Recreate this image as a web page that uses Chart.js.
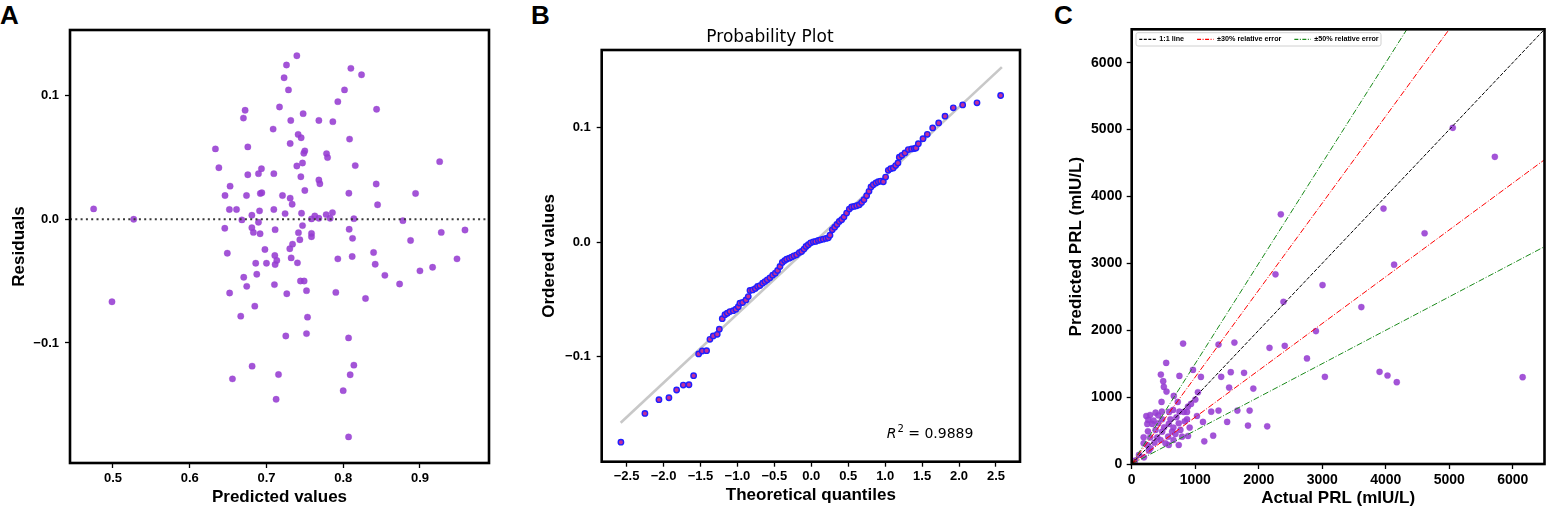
<!DOCTYPE html>
<html><head><meta charset="utf-8">
<script src="https://cdn.jsdelivr.net/npm/chart.js@4.4.0/dist/chart.umd.min.js"></script>
<style>
body{margin:0;background:#fff;width:1549px;height:509px;position:relative;overflow:hidden;font-family:"Liberation Sans",Arial,sans-serif}
canvas{position:absolute;top:0}
.lab{position:absolute;font:bold 26px "Liberation Sans",Arial,sans-serif;line-height:26px;color:#000}
</style></head><body>
<div class="lab" style="left:0px;top:2px">A</div>
<div class="lab" style="left:531px;top:2px">B</div>
<div class="lab" style="left:1054px;top:2px">C</div>
<canvas id="cA" width="500" height="509" style="left:0px;width:500px;height:509px"></canvas>
<canvas id="cB" width="520" height="509" style="left:520px;width:520px;height:509px"></canvas>
<canvas id="cC" width="504" height="509" style="left:1045px;width:504px;height:509px"></canvas>
<script>
// ---------- Panel A: residuals ----------
const residPred = [0.4748,0.527,0.4987,0.6335,0.638,0.6526,0.646,0.6517,0.661,0.6457,0.649,0.652,0.6557,0.6665,0.6704,0.6743,0.6848,0.6813,0.67,0.6722,0.6757,0.6757,0.674,0.668,0.681,0.681,0.683,0.686,0.6874,0.6896,0.6935,0.692,0.694,0.691,0.6896,0.6917,0.698,0.700,0.7087,0.7096,0.7096,0.7113,0.7109,0.7113,0.7135,0.7104,0.7157,0.7126,0.717,0.7209,0.7243,0.723,0.7261,0.7287,0.7317,0.7309,0.7309,0.7335,0.734,0.7304,0.7322,0.7265,0.7252,0.7396,0.7396,0.7413,0.7452,0.7478,0.75,0.7487,0.747,0.7448,0.75,0.7457,0.747,0.7417,0.7435,0.7404,0.7443,0.7491,0.7522,0.7535,0.7522,0.7587,0.763,0.7587,0.7587,0.7683,0.7683,0.7696,0.7683,0.7783,0.7796,0.7778,0.783,0.786,0.7865,0.793,0.793,0.7904,0.8017,0.81,0.8083,0.8074,0.8078,0.8122,0.8117,0.8139,0.807,0.8139,0.8091,0.8,0.807,0.8157,0.8239,0.8291,0.8396,0.8417,0.843,0.8435,0.8448,0.8543,0.8735,0.8778,0.8878,0.8943,0.9,0.9165,0.9257,0.9278,0.9483,0.9587];
const residVal = [0.0084,0.0,-0.0667,0.0569,0.0417,0.0268,0.0192,0.0079,0.0079,-0.0073,-0.0274,-0.0596,-0.129,-0.0783,-0.0469,-0.0542,-0.0702,-0.1187,0.0818,0.0881,0.0585,0.036,0.0192,-0.0005,0.0033,-0.0068,-0.0106,-0.0355,-0.0444,0.0369,0.0409,0.0209,0.0214,0.0068,-0.0024,-0.0117,-0.0244,-0.0355,0.0729,0.0369,0.0079,-0.0084,-0.0293,-0.0366,-0.0333,-0.0528,-0.1255,-0.1455,0.0908,0.0192,0.0046,0.1144,0.1247,0.1046,0.0799,0.0612,0.0171,0.0122,-0.0201,-0.0238,-0.0312,-0.0602,-0.0943,0.1322,0.0431,0.0686,0.0659,0.0854,0.0553,0.0534,0.0455,0.0344,0.0233,0.0049,-0.0051,-0.0108,-0.0165,-0.0352,-0.0499,-0.0499,-0.0577,-0.0791,-0.0924,0.0003,0.0027,-0.0114,-0.0141,0.0799,0.0317,0.0287,0.0008,0.0531,0.0499,0.0038,0.0008,0.0054,0.0789,0.0951,-0.032,-0.0591,0.1046,0.122,0.0648,0.0211,-0.0081,-0.0154,-0.0301,0.0005,-0.0959,-0.1179,-0.1257,-0.1385,-0.1759,0.0434,0.1168,-0.064,-0.0268,-0.0363,0.0285,0.0889,0.0117,-0.0453,-0.0523,-0.0011,-0.0171,0.0209,-0.0417,-0.0388,0.0466,-0.0106,-0.032,-0.0087];
const aXRange = [0.444, 0.99];
const aYRange = [-0.197, 0.153];
const aXTicks = [0.5,0.6,0.7,0.8,0.9];
const aXTickLabels = ['0.5','0.6','0.7','0.8','0.9'];
const aYTicks = [-0.1,0,0.1];
const aYTickLabels = ['\u22120.1','0.0','0.1'];

// ---------- Panel B: probability plot ----------
const qqTheo = [-2.577,-2.252,-2.062,-1.927,-1.823,-1.733,-1.656,-1.593,-1.525,-1.476,-1.417,-1.372,-1.327,-1.273,-1.245,-1.205,-1.169,-1.137,-1.101,-1.056,-1.02,-0.988,-0.966,-0.93,-0.884,-0.853,-0.83,-0.794,-0.758,-0.727,-0.695,-0.659,-0.627,-0.596,-0.56,-0.523,-0.487,-0.456,-0.424,-0.393,-0.361,-0.334,-0.298,-0.266,-0.235,-0.199,-0.162,-0.131,-0.099,-0.072,-0.041,-0.009,0.027,0.059,0.095,0.126,0.162,0.199,0.23,0.253,0.284,0.316,0.347,0.379,0.411,0.442,0.478,0.514,0.546,0.578,0.614,0.65,0.681,0.713,0.749,0.781,0.808,0.839,0.875,0.907,0.939,0.975,1.006,1.042,1.074,1.11,1.142,1.173,1.191,1.227,1.268,1.313,1.358,1.394,1.417,1.449,1.512,1.57,1.643,1.724,1.81,1.922,2.049,2.243,2.563];
const qqOrdered = [-0.1749,-0.1498,-0.1378,-0.1361,-0.1293,-0.125,-0.1247,-0.1168,-0.0978,-0.0952,-0.0949,-0.085,-0.082,-0.0806,-0.0762,-0.0669,-0.0634,-0.0622,-0.0607,-0.0599,-0.0587,-0.0564,-0.0534,-0.0528,-0.0505,-0.0476,-0.0423,-0.0418,-0.0406,-0.0388,-0.038,-0.0359,-0.0345,-0.033,-0.0312,-0.0289,-0.0272,-0.0248,-0.0213,-0.0178,-0.0161,-0.0149,-0.014,-0.0131,-0.012,-0.0111,-0.0091,-0.0082,-0.0061,-0.0038,-0.0023,-0.0006,0.0003,0.0006,0.0015,0.002,0.0026,0.0032,0.0038,0.0061,0.0108,0.0131,0.0155,0.0181,0.0196,0.0219,0.0254,0.0289,0.0307,0.0312,0.0318,0.0327,0.0347,0.0371,0.0406,0.0444,0.0482,0.0502,0.0517,0.0528,0.0534,0.0528,0.0569,0.0628,0.0642,0.0648,0.0669,0.0692,0.0742,0.0759,0.078,0.0809,0.0815,0.0818,0.0823,0.0861,0.0905,0.0943,0.0999,0.1042,0.1101,0.1174,0.12,0.1218,0.1282];
const qqLineX = [-2.58, 2.58];
const qqLineY = [-0.158, 0.153];
const bXRange = [-2.837, 2.825];
const bYRange = [-0.192, 0.168];
const bXTicks = [-2.5,-2,-1.5,-1,-0.5,0,0.5,1,1.5,2,2.5];
const bXTickLabels = ['\u22122.5','\u22122.0','\u22121.5','\u22121.0','\u22120.5','0.0','0.5','1.0','1.5','2.0','2.5'];
const bYTicks = [-0.1,0,0.1];
const bYTickLabels = ['\u22120.1','0.0','0.1'];

// ---------- Panel C: actual vs predicted ----------
const actualPRL = [809,1367,1617,2170,543,459,751,965,1090,1409,1560,1769,496,506,548,1043,1534,1915,663,470,725,1002,934,887,652,376,475,590,751,819,871,1252,1367,1664,1857,230,290,417,261,344,480,610,704,871,1028,245,323,417,584,741,835,1122,1503,1831,2134,913,657,511,256,376,480,636,767,793,574,188,292,402,454,689,657,1283,887,188,360,532,1143,115,193,52,21,297,245,271,584,741,5056,5718,2348,3965,4612,4132,2264,3005,2390,3616,2901,2410,2760,3042,3903,4028,4174,6156];
const predictedPRL = [1801,1786,1816,1737,1512,1337,1317,1407,1302,1303,1373,1363,1238,1153,1083,1073,1143,1128,1018,928,928,963,898,858,808,768,783,778,783,778,778,783,799,799,799,718,733,728,659,649,669,669,699,669,718,599,599,609,599,609,639,629,629,574,564,544,544,549,489,509,484,484,509,409,409,399,399,399,359,449,359,424,419,309,319,309,339,135,100,50,35,234,284,200,284,284,5027,4593,3734,3819,3450,2980,2836,2676,2426,2346,1987,1767,1578,1303,1378,1323,1223,1298];
const refLineX = [0, 6500];
const refRatios = [1, 1.3, 0.7, 1.5, 0.5];
const refLabels = ['1:1 line', '\u00b130% relative error', '\u00b150% relative error'];
const cRange = [0, 6500];
const cTicks = [0,1000,2000,3000,4000,5000,6000];
const cTickLabels = ['0','1000','2000','3000','4000','5000','6000'];

// ---------- helpers ----------
const FONT = '"Liberation Sans", Arial, sans-serif';
const DJV = '"DejaVu Sans", sans-serif';
const pairs = (xs, ys) => xs.map((x, i) => ({x, y: ys[i]}));

const framePlugin = {
  id: 'frame',
  afterDatasetsDraw(chart) {
    const {ctx, chartArea: a} = chart;
    ctx.save();
    ctx.lineWidth = 2.6;
    ctx.strokeStyle = '#000';
    ctx.strokeRect(a.left, a.top, a.right - a.left, a.bottom - a.top);
    ctx.restore();
  }
};

function scale(axis, range, ticks, labels, opts) {
  return {
    type: 'linear',
    min: range[0], max: range[1],
    afterBuildTicks: s => { s.ticks = ticks.map(v => ({value: v})); },
    afterFit: s => { if (axis === 'x') s.height = opts.size; else s.width = opts.size; },
    ticks: {
      callback: (v, i) => labels[i],
      font: {family: FONT, size: opts.tickSize, weight: 'bold'},
      color: '#000', padding: opts.tickPad, maxRotation: 0, autoSkip: false
    },
    grid: {drawOnChartArea: false, drawTicks: true, tickLength: 5, tickWidth: 1.3, tickColor: '#000'},
    border: {display: false},
    title: {
      display: true, text: opts.title, color: '#000',
      font: {family: FONT, size: 17, weight: 'bold', lineHeight: 1.2},
      padding: opts.titlePad
    }
  };
}

// ---------- Chart A ----------
new Chart(document.getElementById('cA'), {
  type: 'scatter',
  data: {
    datasets: [
      {
        type: 'line',
        data: pairs(aXRange, [0, 0]),
        borderColor: '#3a3a3a', borderWidth: 2.1, borderDash: [2, 3.3],
        pointRadius: 0, fill: false
      },
      {
        data: pairs(residPred, residVal),
        backgroundColor: 'rgba(150,60,210,0.88)', borderColor: 'rgba(150,60,210,0.6)',
        borderWidth: 0.5, pointRadius: 3.2
      }
    ]
  },
  options: {
    responsive: false, animation: false, devicePixelRatio: 1,
    layout: {padding: {top: 30, right: 11, left: 0, bottom: 0}},
    plugins: {legend: {display: false}, tooltip: {enabled: false}},
    scales: {
      x: scale('x', aXRange, aXTicks, aXTickLabels, {size: 46, tickSize: 13, tickPad: 3, title: 'Predicted values', titlePad: {top: 0, bottom: 1}}),
      y: scale('y', aYRange, aYTicks, aYTickLabels, {size: 70, tickSize: 13, tickPad: 6, title: 'Residuals', titlePad: {top: 9.5, bottom: 0}})
    }
  },
  plugins: [framePlugin]
});

// ---------- Chart B ----------
const r2Plugin = {
  id: 'r2',
  afterDatasetsDraw(chart) {
    const {ctx, chartArea: a} = chart;
    ctx.save();
    ctx.fillStyle = '#000';
    ctx.textBaseline = 'alphabetic';
    let x = a.left + 285, y = 438;
    ctx.font = 'italic 14px ' + DJV;
    ctx.fillText('R', x, y);
    x += ctx.measureText('R').width + 1;
    ctx.font = '10px ' + DJV;
    ctx.fillText('2', x, y - 6);
    x += ctx.measureText('2').width;
    ctx.font = '14px ' + DJV;
    ctx.fillText(' = 0.9889', x, y);
    ctx.restore();
  }
};
new Chart(document.getElementById('cB'), {
  type: 'scatter',
  data: {
    datasets: [
      {
        data: pairs(qqTheo, qqOrdered),
        backgroundColor: '#c0309a', borderColor: '#1f1fff',
        borderWidth: 1.4, pointRadius: 2.7
      },
      {
        type: 'line',
        data: pairs(qqLineX, qqLineY),
        borderColor: '#c8c8c8', borderWidth: 2.6, pointRadius: 0, fill: false
      }
    ]
  },
  options: {
    responsive: false, animation: false, devicePixelRatio: 1,
    layout: {padding: {top: 0, right: 20, left: 0, bottom: 0}},
    plugins: {
      legend: {display: false}, tooltip: {enabled: false},
      title: {display: true, text: 'Probability Plot', color: '#000',
        font: {family: DJV, size: 17, weight: 'normal', lineHeight: 1.2},
        padding: {top: 27.5, bottom: 2.1}}
    },
    scales: {
      x: scale('x', bXRange, bXTicks, bXTickLabels, {size: 47.3, tickSize: 13, tickPad: 2, title: 'Theoretical quantiles', titlePad: {top: 0, bottom: 3}}),
      y: scale('y', bYRange, bYTicks, bYTickLabels, {size: 81.7, tickSize: 13, tickPad: 6, title: 'Ordered values', titlePad: {top: 19, bottom: 0}})
    }
  },
  plugins: [framePlugin, r2Plugin]
});

// ---------- Chart C ----------
const refColors = ['#000000', '#ff0000', '#ff0000', '#1a8a1a', '#1a8a1a'];
const refDash = [[3.7, 1.6], [6, 1.8, 1, 1.8], [6, 1.8, 1, 1.8], [6, 1.8, 1, 1.8], [6, 1.8, 1, 1.8]];
const refDatasets = refRatios.map((r, i) => ({
  type: 'line',
  data: pairs(refLineX, refLineX.map(x => x * r)),
  borderColor: refColors[i], borderWidth: 1, borderDash: refDash[i],
  pointRadius: 0, fill: false
}));
const legendPlugin = {
  id: 'boxLegend',
  afterDatasetsDraw(chart) {
    const {ctx, chartArea: a} = chart;
    ctx.save();
    const bx = a.left + 4.3, by = a.top + 3.4, bw = 245, bh = 13.3;
    ctx.fillStyle = 'rgba(255,255,255,0.8)';
    ctx.strokeStyle = '#d0d0d0'; ctx.lineWidth = 1;
    ctx.beginPath();
    if (ctx.roundRect) ctx.roundRect(bx, by, bw, bh, 2); else ctx.rect(bx, by, bw, bh);
    ctx.fill(); ctx.stroke();
    const cy = by + bh / 2;
    ctx.font = 'bold 7.2px ' + FONT;
    ctx.textBaseline = 'middle';
    const entries = [0, 1, 3];
    let x = bx + 3.3;
    entries.forEach((di, k) => {
      ctx.strokeStyle = refColors[di]; ctx.lineWidth = 1.1;
      ctx.setLineDash(di === 0 ? [3, 1.5] : [4, 1.5, 1, 1.5]);
      ctx.beginPath(); ctx.moveTo(x, cy); ctx.lineTo(x + 16.5, cy); ctx.stroke();
      ctx.setLineDash([]);
      ctx.fillStyle = '#000';
      ctx.fillText(refLabels[k], x + 20, cy);
      x += 20 + ctx.measureText(refLabels[k]).width + 13;
    });
    ctx.restore();
  }
};
new Chart(document.getElementById('cC'), {
  type: 'scatter',
  data: {
    datasets: refDatasets.concat([{
      data: pairs(actualPRL, predictedPRL),
      backgroundColor: 'rgba(150,60,210,0.88)', borderColor: 'rgba(150,60,210,0.6)',
      borderWidth: 0.5, pointRadius: 3.1
    }])
  },
  options: {
    responsive: false, animation: false, devicePixelRatio: 1,
    layout: {padding: {top: 29.3, right: 0.7, left: 0, bottom: 0}},
    plugins: {legend: {display: false}, tooltip: {enabled: false}},
    scales: {
      x: scale('x', cRange, cTicks, cTickLabels, {size: 45, tickSize: 14, tickPad: 3, title: 'Actual PRL (mIU/L)', titlePad: {top: 0, bottom: 0}}),
      y: scale('y', cRange, cTicks, cTickLabels, {size: 86.7, tickSize: 14, tickPad: 4.5, title: 'Predicted PRL (mIU/L)', titlePad: {top: 21.5, bottom: 0}})
    }
  },
  plugins: [framePlugin, legendPlugin]
});
</script>
</body></html>
